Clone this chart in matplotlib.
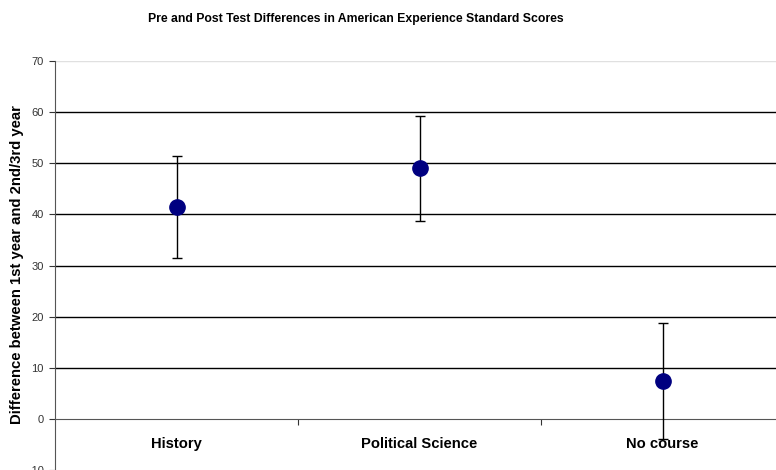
import matplotlib.pyplot as plt
from matplotlib.ticker import FixedLocator, NullFormatter

# values
categories = ["History", "Political Science", "No course"]
means = [41.4, 49.0, 7.4]
errors = [10.0, 10.3, 11.3]
y_ticks = [-10, 0, 10, 20, 30, 40, 50, 60, 70]

plt.rcParams['font.family'] = ['Liberation Sans', 'DejaVu Sans']

fig = plt.figure(figsize=(7.76, 4.70), dpi=100)
ax = fig.add_axes([55 / 776, 0.0, 729 / 776, 409 / 470])

x = list(range(len(categories)))
ax.errorbar(x, means, yerr=errors, fmt='o', color='#000080', markersize=11,
            ecolor='black', elinewidth=1, capsize=3.5, capthick=1, zorder=3)

ax.set_xlim(-0.5, len(categories) - 0.5)
ax.set_ylim(-10, 70)
ax.set_yticks(y_ticks)
ax.tick_params(axis='y', labelsize=8, colors='#333333', length=4, width=0.8, pad=4, direction='out')

# horizontal gridlines, top one light grey
for v in y_ticks[2:-1]:
    ax.axhline(v, color='black', lw=1, zorder=1)
ax.axhline(70, color='#e0e0e0', lw=1, zorder=1)

# category axis crosses at 0
ax.spines['bottom'].set_position(('data', 0))
ax.spines['bottom'].set_color('#555555')
ax.spines['left'].set_color('#555555')
ax.spines['top'].set_visible(False)
ax.spines['right'].set_visible(False)

ax.xaxis.set_major_locator(FixedLocator([i + 0.5 for i in x[:-1]]))
ax.xaxis.set_major_formatter(NullFormatter())
ax.xaxis.set_minor_locator(FixedLocator(x))
ax.set_xticklabels(categories, minor=True)
ax.tick_params(axis='x', which='major', length=4, width=0.8, color='#333333', direction='out')
ax.tick_params(axis='x', which='minor', length=0, pad=13, labelsize=10.6, labelcolor='black')
for lbl in ax.get_xticklabels(minor=True):
    lbl.set_fontweight('bold')

fig.text(356 / 776, 1 - 19 / 470, "Pre and Post Test Differences in American Experience Standard Scores",
         ha='center', va='center', fontsize=8.85, fontweight='bold')
fig.text(17 / 776, 1 - 264.5 / 470, "Difference between 1st year and 2nd/3rd year",
         rotation=90, ha='center', va='center', fontsize=10.7, fontweight='bold')

fig.savefig("out.png", dpi=100)
